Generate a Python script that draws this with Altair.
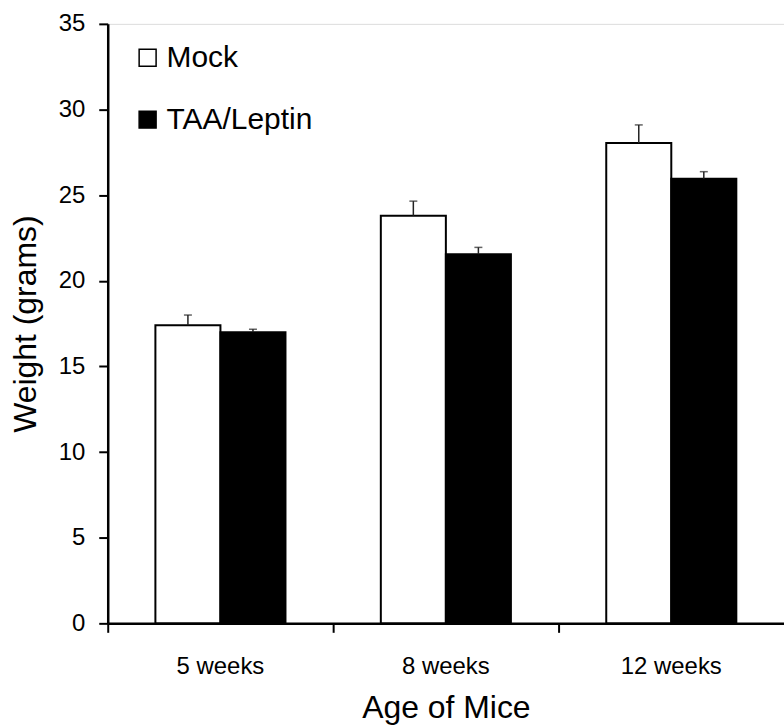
import altair as alt
import pandas as pd

ages = ["5 weeks", "8 weeks", "12 weeks"]
groups = ["Mock", "TAA/Leptin"]
mock_mean = [17.4, 23.8, 28.05]
mock_err = [0.6, 0.85, 1.05]
taa_mean = [17.0, 21.55, 25.95]
taa_err = [0.17, 0.4, 0.42]

rows = []
for i, a in enumerate(ages):
    rows.append({"age": a, "group": groups[0], "mean": mock_mean[i], "top": mock_mean[i] + mock_err[i]})
    rows.append({"age": a, "group": groups[1], "mean": taa_mean[i], "top": taa_mean[i] + taa_err[i]})
df = pd.DataFrame(rows)

FONT = "Liberation Sans"

x = alt.X("age:N", sort=ages,
          scale=alt.Scale(paddingInner=0, paddingOuter=0),
          axis=alt.Axis(title="Age of Mice", labelAngle=0, bandPosition=0,
                        labelFontSize=24, titleFontSize=32, labelFont=FONT, titleFont=FONT,
                        labelColor="black", titleColor="black", titleFontWeight="normal",
                        domainColor="black", domainWidth=2.5, tickColor="black", tickWidth=2,
                        tickSize=9, labelPadding=22, titlePadding=14))
xo = alt.XOffset("group:N", sort=groups, scale=alt.Scale(paddingInner=0, paddingOuter=0.733))

y = alt.Y("mean:Q", scale=alt.Scale(domain=[0, 35], nice=False),
          axis=alt.Axis(title="Weight (grams)", values=list(range(0, 36, 5)), grid=False,
                        labelFontSize=24, titleFontSize=32, labelFont=FONT, titleFont=FONT,
                        labelColor="black", titleColor="black", titleFontWeight="normal",
                        domainColor="black", domainWidth=2.5, tickColor="black", tickWidth=2,
                        tickSize=9, labelPadding=14, titlePadding=16))

color = alt.Color("group:N", sort=groups,
                  scale=alt.Scale(domain=groups, range=["white", "black"]),
                  legend=alt.Legend(title=None, orient="none", legendX=25, legendY=19,
                                    symbolType="square", symbolSize=289,
                                    symbolStrokeColor="black", symbolStrokeWidth=1.5,
                                    labelFont=FONT, labelFontSize=30, labelColor="black",
                                    labelOffset=4, rowPadding=32, padding=0))

bars = alt.Chart(df).mark_bar(stroke="black", strokeWidth=2).encode(
    x=x, xOffset=xo, y=y, color=color)

err = alt.Chart(df).mark_rule(color="#222", strokeWidth=1.5).encode(
    x=alt.X("age:N", sort=ages), xOffset=xo,
    y=alt.Y("mean:Q"), y2=alt.Y2("top:Q"))

cap = alt.Chart(df).mark_tick(color="#222", thickness=1.5, size=8, orient="horizontal").encode(
    x=alt.X("age:N", sort=ages), xOffset=xo, y=alt.Y("top:Q"))

chart = alt.layer(bars, err, cap).properties(
    width=678, height=601,
    autosize=alt.AutoSizeParams(type="none"),
    padding={"left": 108, "top": 23, "right": 0, "bottom": 103},
).configure_view(strokeWidth=0, stroke="transparent").configure(background="white")

chart.save("out.html", embed_options={"renderer": "svg", "actions": False})
